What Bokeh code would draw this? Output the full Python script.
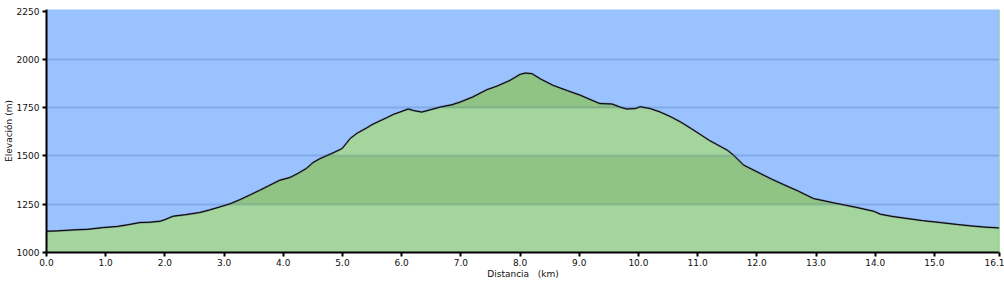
import numpy as np
from bokeh.plotting import figure
from bokeh.models import Range1d, FixedTicker, NumeralTickFormatter, Span
from bokeh.embed import file_html
from bokeh.resources import INLINE

# Profile data (distance km, elevation m)
distance_km = [0.0, 0.2, 0.45, 0.7, 0.96, 1.2, 1.4, 1.58, 1.75, 1.92, 2.0, 2.14, 2.35, 2.59, 2.75,
               2.93, 3.1, 3.27, 3.45, 3.6, 3.75, 3.94, 4.11, 4.25, 4.39, 4.5, 4.62, 4.8, 4.96, 5.0,
               5.13, 5.25, 5.41, 5.5, 5.63, 5.75, 5.86, 5.97, 6.11, 6.2, 6.34, 6.5, 6.65, 6.85, 6.99,
               7.2, 7.44, 7.6, 7.83, 8.0, 8.09, 8.2, 8.35, 8.56, 8.8, 9.02, 9.2, 9.35, 9.55, 9.7,
               9.8, 9.95, 10.03, 10.2, 10.37, 10.55, 10.71, 10.9, 11.04, 11.2, 11.38, 11.5, 11.61,
               11.78, 12.06, 12.25, 12.45, 12.7, 12.96, 13.1, 13.3, 13.5, 13.69, 13.97, 14.09, 14.3,
               14.54, 14.8, 15.1, 15.39, 15.6, 15.83, 16.1]
elevation_m = [1110, 1112, 1117, 1120, 1129, 1135, 1145, 1155, 1157, 1162, 1170, 1188, 1196, 1207, 1220,
               1236, 1252, 1274, 1300, 1322, 1345, 1374, 1388, 1410, 1435, 1465, 1486, 1510, 1533, 1540,
               1590, 1618, 1645, 1662, 1681, 1698, 1715, 1727, 1743, 1735, 1727, 1740, 1753, 1765, 1779,
               1805, 1843, 1860, 1891, 1922, 1929, 1926, 1898, 1865, 1838, 1814, 1790, 1771, 1769, 1752,
               1743, 1745, 1755, 1745, 1727, 1702, 1676, 1640, 1612, 1580, 1550, 1530, 1503,
               1452, 1409, 1380, 1352, 1318, 1279, 1270, 1257, 1245, 1233, 1214, 1198, 1186,
               1176, 1165, 1155, 1145, 1138, 1132, 1127]

y_ticks = [1000, 1250, 1500, 1750, 2000, 2250]
grid_levels = [1250, 1500, 1750, 2000]
x_ticks = [0, 1, 2, 3, 4, 5, 6, 7, 8, 9, 10, 11, 12, 13, 14, 15, 16.1]
dark_bands = [(1250, 1500), (1750, 2000)]

FONT = "DejaVu Sans"

p = figure(width=1004, height=284, output_backend="svg", toolbar_location=None,
           x_range=Range1d(0, 16.1), y_range=Range1d(1000, 2258),
           min_border_left=45, min_border_right=5, min_border_top=9, min_border_bottom=32,
           background_fill_color="#99c2ff", border_fill_color="white")
p.outline_line_color = None

x = np.array(distance_km, dtype=float)
y = np.array(elevation_m, dtype=float)

# light green fill
p.varea(x=x, y1=1000, y2=y, fill_color="#a3d59d")
# darker bands inside the fill
for lo, hi in dark_bands:
    top = np.clip(y, lo, hi)
    p.varea(x=x, y1=lo, y2=top, fill_color="#8fc485")

# grid lines
p.xgrid.grid_line_color = None
p.ygrid.ticker = FixedTicker(ticks=grid_levels)
p.ygrid.grid_line_color = "#2a4a80"
p.ygrid.grid_line_alpha = 0.2
p.ygrid.grid_line_width = 2
p.ygrid.level = "glyph"

# profile line
p.line(x, y, line_color="#5a6070", line_width=2.0, line_alpha=0.7)
p.line(x, y, line_color="#000000", line_width=1.0)

# right green edge
p.add_layout(Span(location=16.1, dimension="height", line_color="#8fd07f", line_width=1.5))

# axes
p.xaxis.ticker = FixedTicker(ticks=x_ticks)
p.xaxis.formatter = NumeralTickFormatter(format="0.0")
p.yaxis.ticker = FixedTicker(ticks=y_ticks)
p.xaxis.axis_label = "Distancia\u00a0\u00a0\u00a0(km)"
p.yaxis.axis_label = "Elevación (m)"
for ax in (p.xaxis, p.yaxis):
    ax.axis_line_color = "black"
    ax.axis_line_width = 2
    ax.major_tick_line_color = "black"
    ax.major_tick_line_width = 2
    ax.major_tick_out = 4
    ax.major_tick_in = 0
    ax.minor_tick_line_color = None
    ax.major_label_text_font = FONT
    ax.major_label_text_font_size = "9px"
    ax.major_label_text_color = "#111111"
    ax.axis_label_text_font = FONT
    ax.axis_label_text_font_size = "9px"
    ax.axis_label_text_font_style = "normal"
    ax.axis_label_text_color = "#111111"
p.xaxis.major_label_standoff = 2
p.xaxis.axis_label_standoff = 0
p.yaxis.major_label_standoff = 3
p.yaxis.axis_label_standoff = 0

open("out.html", "w").write(file_html(p, INLINE))
